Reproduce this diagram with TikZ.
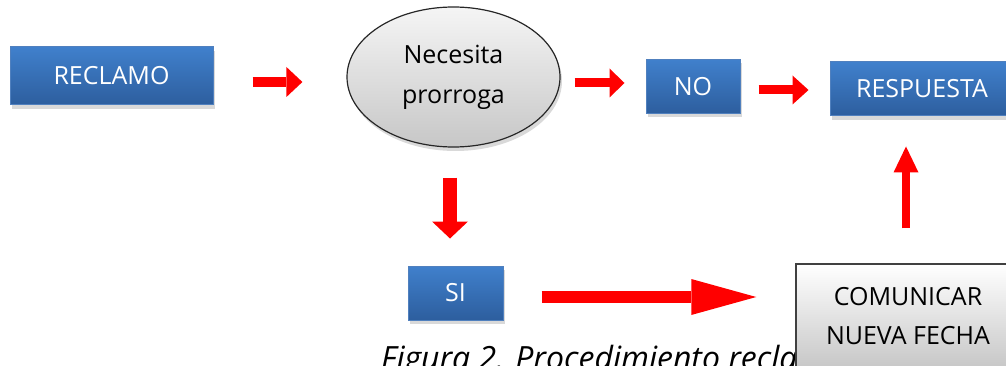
\documentclass[tikz,border=0pt]{standalone}
\usepackage{fontspec}
\setmainfont{Open Sans}
\usepackage{tikz}
\usetikzlibrary{shapes.geometric, shadows, arrows.meta, positioning}
\definecolor{boxtop}{RGB}{64,128,204}
\definecolor{boxbot}{RGB}{45,94,158}
\definecolor{boxline}{RGB}{80,128,190}
\tikzset{
    txt/.style={font=\fontsize{25}{40}\selectfont, align=center, inner sep=0pt},
    bluebox/.style={txt, rectangle, text=white, draw=boxline, line width=1pt,
        top color=boxtop, bottom color=boxbot,
        drop shadow={shadow xshift=2pt, shadow yshift=-4pt, opacity=.3}},
    greybox/.style={txt, rectangle, draw=black!75, line width=1.5pt,
        top color=white, bottom color=black!22,
        drop shadow={shadow xshift=2pt, shadow yshift=-4pt, opacity=.3}},
    fat/.style n args={3}{draw=red, line width=#1,
        -{Triangle[length=#2, width=#3, line width=0pt]}},
}

\begin{document}
\begin{tikzpicture}[x=1pt, y=-1pt]
    \useasboundingbox (0, 0) rectangle (1006, 366);
    \node [bluebox, minimum width=203pt, minimum height=58pt] (reclamo) at (111.5, 76) {RECLAMO};
    \node [txt, ellipse, draw=black!85, line width=1.2pt, minimum width=213pt, minimum height=140pt,
        top color=black!4, bottom color=black!22,
        drop shadow={shadow xshift=2pt, shadow yshift=-4pt, opacity=.3}] (nec) at (453.5, 77) {Necesita\\prorroga};
    \node [bluebox, minimum width=94pt, minimum height=54pt] (no) at (693, 86.5) {NO};
    \node [bluebox, minimum width=184pt, minimum height=54pt] (resp) at (922, 89) {RESPUESTA};
    \node [bluebox, minimum width=95pt, minimum height=54pt] (si) at (455.5, 293) {SI};
    \node [txt, font=\itshape\fontsize{32}{36}\selectfont, anchor=base west] (cap) at (381, 369) {Figura 2. Procedimiento recla};
    \node [greybox, font=\fontsize{25}{39}\selectfont, minimum width=224pt, minimum height=104pt] (com) at (908, 316) {COMUNICAR\\NUEVA FECHA};

    \draw [fat={10pt}{16pt}{30pt}, shorten <=39pt, shorten >=44pt] ([yshift=-6pt]reclamo.east) -- ([yshift=-6pt]reclamo.east -| nec.west);
    \draw [fat={9pt}{15pt}{29pt}, shorten <=14pt, shorten >=21pt] ([yshift=-6pt]nec.east) -- ([yshift=-6pt]nec.east -| no.west);
    \draw [fat={9pt}{16pt}{29pt}, shorten <=18pt, shorten >=21pt] ([yshift=-3.5pt]no.east) -- ([yshift=-3.5pt]no.east -| resp.west);
    \draw [fat={14pt}{17pt}{36pt}, shorten <=30pt, shorten >=27pt] ([xshift=-3.5pt]nec.south) -- ([xshift=-3.5pt]nec.south |- si.north);
    \draw [fat={12pt}{65pt}{36pt}, shorten <=38pt, shorten >=39pt] ([yshift=-4pt]si.east) -- ([yshift=-4pt]si.east -| com.west);
    \draw [fat={8pt}{26pt}{25pt}, shorten <=35pt, shorten >=30pt] ([xshift=-2pt]com.north) -- ([xshift=-2pt]com.north |- resp.south);
\end{tikzpicture}
\end{document}
